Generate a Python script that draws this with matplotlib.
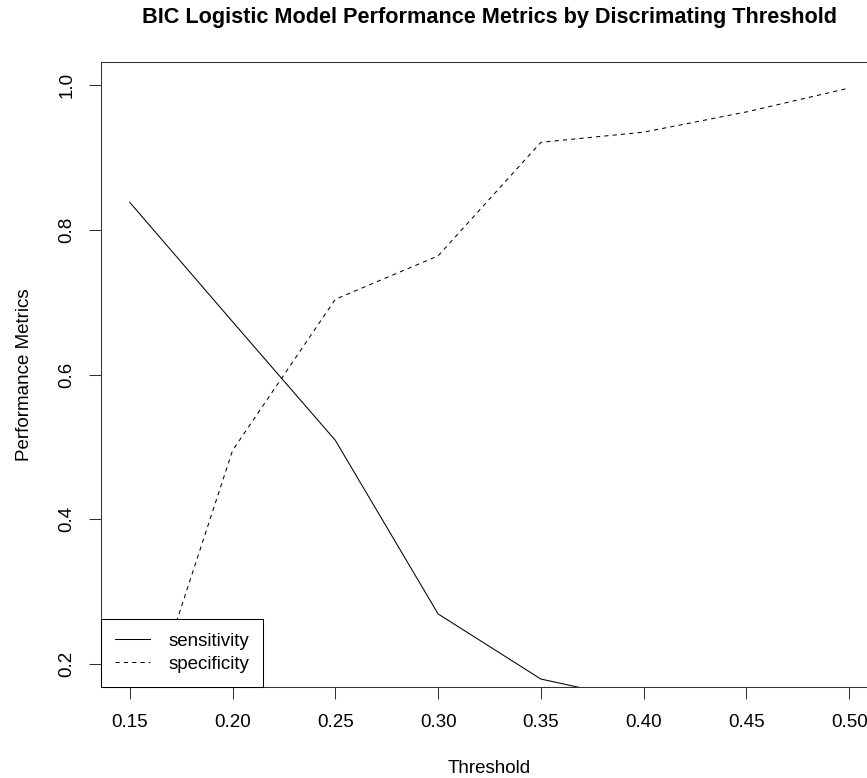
import matplotlib
matplotlib.use('Agg')
import matplotlib.pyplot as plt
import numpy as np

plt.rcParams['font.family'] = ['Liberation Sans', 'DejaVu Sans']

# data
thresholds = [0.15, 0.20, 0.25, 0.30, 0.35, 0.40, 0.45, 0.50]
sensitivity = [0.838, 0.673, 0.509, 0.269, 0.179, 0.148, 0.10, 0.05]
specificity = [0.061, 0.495, 0.704, 0.764, 0.921, 0.935, 0.963, 0.996]

x_ticks = [0.15, 0.20, 0.25, 0.30, 0.35, 0.40, 0.45, 0.50]
y_ticks = [0.2, 0.4, 0.6, 0.8, 1.0]

W, H = 867, 778
fig = plt.figure(figsize=(W / 100, H / 100), dpi=100)
# axes box runs past the right edge of the image, as in the reference
ax = fig.add_axes([101 / W, (H - 687) / H, 777 / W, 625 / H])

ax.plot(thresholds, sensitivity, color='black', lw=0.75, label='sensitivity')
ax.plot(thresholds, specificity, color='black', lw=0.75, dashes=(4, 4),
        label='specificity')

ax.set_xlim(0.136, 0.514)
ax.set_ylim(0.168, 1.032)
ax.set_xticks(x_ticks)
ax.set_xticklabels([f'{t:.2f}' for t in x_ticks])
ax.set_yticks(y_ticks)
ax.set_yticklabels([f'{t:.1f}' for t in y_ticks], rotation=90, va='center')
ax.tick_params(direction='out', length=8.6, width=0.75, labelsize=13.5,
               color='#333333')
ax.tick_params(axis='x', pad=11)
ax.tick_params(axis='y', pad=10)

for s in ax.spines.values():
    s.set_linewidth(0.75)
    s.set_color('#333333')

ax.set_title('BIC Logistic Model Performance Metrics by Discrimating Threshold',
             fontsize=15.6, fontweight='bold', pad=28)
ax.set_xlabel('Threshold', fontsize=13.5, va='center')
ax.xaxis.set_label_coords(0.5, -0.13)
ax.set_ylabel('Performance Metrics', fontsize=13.5, va='center')
ax.yaxis.set_label_coords(-0.0985, 0.5)

leg = ax.legend(loc='lower left', borderaxespad=0, fancybox=False,
                framealpha=1, edgecolor='black', fontsize=13.5,
                handlelength=1.87, handletextpad=0.96, borderpad=0.75,
                labelspacing=0.32)
leg.get_frame().set_linewidth(0.75)

fig.savefig('out.png', dpi=100)
